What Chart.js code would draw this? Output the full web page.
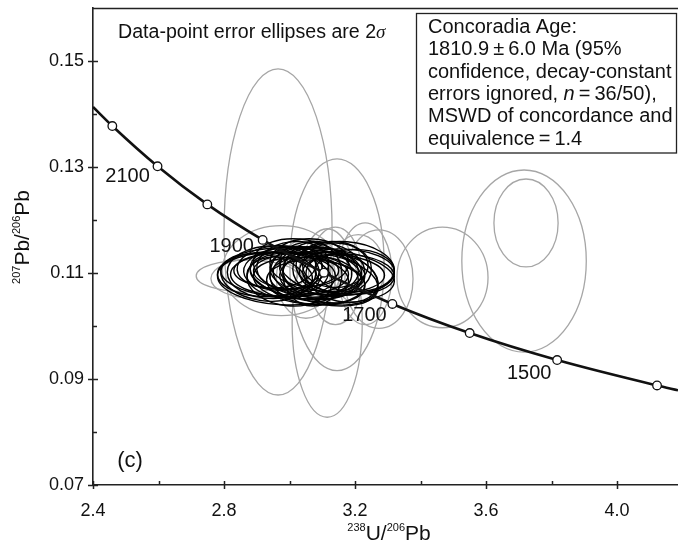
<!DOCTYPE html>
<html><head><meta charset="utf-8">
<script src="https://cdn.jsdelivr.net/npm/chart.js@4.4.0/dist/chart.umd.min.js"></script>
<style>html,body{margin:0;padding:0;background:#fff;overflow:hidden}#wrap{width:678px;height:545px;position:relative;}canvas{display:block}</style>
</head><body><div id="wrap"><canvas id="c" width="678" height="545"></canvas></div>
<script>
// ---- Concordia curve (age markers, Ma) ----
const concordiaAges = [2200, 2100, 2000, 1900, 1800, 1700, 1600, 1500, 1400];
const concordiaX = [2.459, 2.597, 2.749, 2.918, 3.105, 3.314, 3.550, 3.817, 4.122];
const concordiaY = [0.1378, 0.1302, 0.1230, 0.1163, 0.1101, 0.1042, 0.0987, 0.0936, 0.0888];
const curveEdgeX = [2.400, 4.186];
const curveEdgeY = [0.1414, 0.0879];
const labelledAges = [2100, 1900, 1700, 1500];

// ---- Included analyses (black 2σ ellipses): centre, 2σ half-widths, error correlation ----
const blackX   = [3.05,3.08,3.00,3.12,2.98,3.10,2.98,3.15,3.06,2.95,3.01,3.09,3.13,2.97,3.04,3.18,3.07,2.99,3.11,3.02,3.14,2.93,3.06,3.16,3.00,3.09,3.20,2.96,3.04,3.12,3.08,2.92,3.17,3.01,3.10,3.05];
const blackY   = [0.1100,0.1105,0.1098,0.1095,0.1108,0.1112,0.1090,0.1102,0.1085,0.1102,0.1115,0.1092,0.1108,0.1093,0.1110,0.1098,0.1098,0.1105,0.1088,0.1103,0.1115,0.1098,0.1120,0.1090,0.1088,0.1100,0.1105,0.1112,0.1095,0.1103,0.1083,0.1092,0.1110,0.1100,0.1096,0.1106];
const blackSX  = [0.17,0.14,0.18,0.15,0.12,0.13,0.20,0.17,0.17,0.14,0.11,0.12,0.12,0.10,0.15,0.14,0.09,0.16,0.16,0.08,0.10,0.15,0.12,0.11,0.13,0.20,0.12,0.12,0.10,0.09,0.15,0.13,0.15,0.22,0.22,0.07];
const blackSY  = [0.0050,0.0045,0.0042,0.0055,0.0040,0.0048,0.0050,0.0044,0.0045,0.0050,0.0045,0.0040,0.0052,0.0038,0.0055,0.0038,0.0060,0.0035,0.0050,0.0048,0.0042,0.0042,0.0045,0.0045,0.0050,0.0040,0.0040,0.0040,0.0035,0.0038,0.0042,0.0045,0.0050,0.0048,0.0052,0.0040];
const blackRho = [-0.2,-0.1,0.0,-0.3,0.1,-0.2,-0.1,0.0,-0.2,0.0,0.1,-0.1,0.0,-0.1,-0.2,-0.1,0.0,0.0,-0.3,0.1,0.0,0.0,0.0,-0.2,-0.1,-0.1,0.0,0.1,0.0,0.0,-0.1,-0.2,-0.1,-0.1,-0.2,0.0];

// ---- Excluded analyses (grey 2σ ellipses) ----
const greyX   = [2.965,3.145,3.115,2.975,3.050,3.231,3.273,3.467,3.716,3.722,2.870,2.900,3.140,3.210];
const greyY   = [0.1178,0.1116,0.1006,0.1105,0.1090,0.1099,0.1089,0.1092,0.1123,0.1195,0.1095,0.1090,0.1095,0.1108];
const greySX  = [0.165,0.144,0.107,0.180,0.090,0.082,0.104,0.139,0.190,0.098,0.155,0.140,0.082,0.080];
const greySY  = [0.0308,0.0200,0.0178,0.0085,0.0075,0.0096,0.0093,0.0095,0.0172,0.0083,0.0030,0.0038,0.0092,0.0065];
const greyRho = [0,0,0,0,0,0,0,0,0,0,0,0,0,0];

// ---- Axes ----
const xMajorTicks = [2.4, 2.8, 3.2, 3.6, 4.0];
const xMinorTicks = [2.6, 3.0, 3.4, 3.8];
const yMajorTicks = [0.07, 0.09, 0.11, 0.13, 0.15];
const yMinorTicks = [0.08, 0.10, 0.12, 0.14];
const xRange = [2.4, 4.186];
const yRange = [0.07, 0.1601];

const FONT = "'Liberation Sans', Arial, sans-serif";

const curvePts = [{x: curveEdgeX[0], y: curveEdgeY[0]}]
  .concat(concordiaX.map((v, i) => ({x: v, y: concordiaY[i]})))
  .concat([{x: curveEdgeX[1], y: curveEdgeY[1]}]);

function drawEllipse(ctx, xs, ys, cx, cy, sx, sy, rho) {
  const px = xs.getPixelForValue(cx), py = ys.getPixelForValue(cy);
  const a = Math.abs(xs.getPixelForValue(cx + sx) - px);
  const b = Math.abs(ys.getPixelForValue(cy + sy) - py);
  const c = -rho * a * b;
  const m = (a * a + b * b) / 2, d = Math.sqrt(((a * a - b * b) / 2) ** 2 + c * c);
  const l1 = m + d, l2 = Math.max(m - d, 0.01);
  const th = 0.5 * Math.atan2(2 * c, a * a - b * b);
  ctx.beginPath();
  ctx.ellipse(px, py, Math.sqrt(l1), Math.sqrt(l2), th, 0, Math.PI * 2);
  ctx.stroke();
}

const ellipsePlugin = {
  id: 'ellipses',
  beforeDatasetsDraw(chart) {
    const {ctx, chartArea: ca} = chart;
    const xs = chart.scales.x, ys = chart.scales.y;
    ctx.save();
    ctx.beginPath(); ctx.rect(ca.left, ca.top, ca.right - ca.left, ca.bottom - ca.top); ctx.clip();
    ctx.strokeStyle = '#a6a6a6'; ctx.lineWidth = 1.3;
    greyX.forEach((v, i) => drawEllipse(ctx, xs, ys, v, greyY[i], greySX[i], greySY[i], greyRho[i]));
    ctx.strokeStyle = '#000'; ctx.lineWidth = 1.4;
    blackX.forEach((v, i) => drawEllipse(ctx, xs, ys, v, blackY[i], blackSX[i], blackSY[i], blackRho[i]));
    ctx.restore();
  }
};

function richWidth(ctx, parts) {
  let w = 0;
  parts.forEach(p => { ctx.font = p.font; w += ctx.measureText(p.t).width; });
  return w;
}
function drawRich(ctx, parts, x, y) {
  let cx = x;
  parts.forEach(p => {
    ctx.font = p.font;
    ctx.fillText(p.t, cx, y + (p.dy || 0));
    cx += ctx.measureText(p.t).width;
  });
}

const labelOffsets = {2100: [-30, 10], 1900: [-31, 7], 1700: [-28, 12], 1500: [-28, 13]};

const annotPlugin = {
  id: 'annot',
  afterDraw(chart) {
    const {ctx, chartArea: ca} = chart;
    const xs = chart.scales.x, ys = chart.scales.y;
    ctx.save();
    ctx.strokeStyle = '#222'; ctx.lineWidth = 1.5;
    // top frame
    ctx.beginPath(); ctx.moveTo(ca.left, ca.top + 0.5); ctx.lineTo(ca.right, ca.top + 0.5); ctx.stroke();
    // ticks
    ctx.beginPath();
    xMajorTicks.forEach(v => { const p = Math.round(xs.getPixelForValue(v)) + 0.5; ctx.moveTo(p, ca.bottom - 4); ctx.lineTo(p, ca.bottom + 4); });
    xMinorTicks.forEach(v => { const p = Math.round(xs.getPixelForValue(v)) + 0.5; ctx.moveTo(p, ca.bottom - 4); ctx.lineTo(p, ca.bottom); });
    yMajorTicks.forEach(v => { const p = Math.round(ys.getPixelForValue(v)) + 0.5; ctx.moveTo(ca.left - 5, p); ctx.lineTo(ca.left + 5, p); });
    yMinorTicks.forEach(v => { const p = Math.round(ys.getPixelForValue(v)) + 0.5; ctx.moveTo(ca.left, p); ctx.lineTo(ca.left + 4, p); });
    ctx.stroke();

    ctx.fillStyle = '#111';
    ctx.textBaseline = 'middle';
    // age labels on concordia
    ctx.font = '20px ' + FONT; ctx.textAlign = 'center';
    labelledAges.forEach(a => {
      const i = concordiaAges.indexOf(a);
      const o = labelOffsets[a];
      ctx.fillText(String(a), xs.getPixelForValue(concordiaX[i]) + o[0], ys.getPixelForValue(concordiaY[i]) + o[1]);
    });
    // (c)
    ctx.font = '22px ' + FONT;
    ctx.fillText('(c)', 130, 461);

    ctx.textAlign = 'left';
    // note
    drawRich(ctx, [
      {t: 'Data-point error ellipses are 2', font: '19.6px ' + FONT},
      {t: 'σ', font: 'italic 19px "Liberation Serif", serif'}
    ], 118, 33);

    // result box
    ctx.fillStyle = '#fff';
    ctx.fillRect(416, 13, 261, 140);
    ctx.strokeStyle = '#222'; ctx.lineWidth = 1.3;
    ctx.strokeRect(416.5, 13.5, 260, 139.5);
    ctx.fillStyle = '#111';
    ctx.textBaseline = 'alphabetic';
    const f = '20px ' + FONT, fi = 'italic 20px ' + FONT;
    const lines = [
      [{t: 'Concoradia Age:', font: f}],
      [{t: '1810.9\u2009\u00b1\u20096.0 Ma (95%', font: f}],
      [{t: 'confidence, decay-constant', font: f}],
      [{t: 'errors ignored, ', font: f}, {t: 'n', font: fi}, {t: '\u2009=\u200936/50),', font: f}],
      [{t: 'MSWD of concordance and', font: f}],
      [{t: 'equivalence\u2009=\u20091.4', font: f}]
    ];
    lines.forEach((ln, i) => drawRich(ctx, ln, 428, 33 + i * 22.3));

    // axis titles
    ctx.textBaseline = 'alphabetic';
    const xt = [
      {t: '238', font: '11px ' + FONT, dy: -9},
      {t: 'U/', font: '21px ' + FONT},
      {t: '206', font: '11px ' + FONT, dy: -9},
      {t: 'Pb', font: '21px ' + FONT}
    ];
    const xw = richWidth(ctx, xt);
    drawRich(ctx, xt, 389 - xw / 2, 540);

    ctx.save();
    ctx.translate(29, 237);
    ctx.rotate(-Math.PI / 2);
    const yt = [
      {t: '207', font: '11px ' + FONT, dy: -9},
      {t: 'Pb/', font: '21px ' + FONT},
      {t: '206', font: '11px ' + FONT, dy: -9},
      {t: 'Pb', font: '21px ' + FONT}
    ];
    const yw = richWidth(ctx, yt);
    drawRich(ctx, yt, -yw / 2, 0);
    ctx.restore();
    ctx.restore();
  }
};

Chart.defaults.font.family = FONT;
Chart.defaults.color = '#111';

function noPad(s) { s.paddingTop = 0; s.paddingBottom = 0; s.paddingLeft = 0; s.paddingRight = 0; }

new Chart(document.getElementById('c'), {
  type: 'scatter',
  data: {
    datasets: [
      {
        label: 'Concordia age markers',
        data: concordiaX.map((v, i) => ({x: v, y: concordiaY[i]})),
        pointRadius: 4.3, pointBackgroundColor: '#fff', pointBorderColor: '#111', pointBorderWidth: 1.3,
        showLine: false
      },
      {
        label: 'Concordia',
        type: 'line',
        data: curvePts,
        borderColor: '#111', borderWidth: 2.6, pointRadius: 0,
        cubicInterpolationMode: 'monotone', fill: false
      },
      {
        label: 'Included', data: blackX.map((v, i) => ({x: v, y: blackY[i]})), pointRadius: 0
      },
      {
        label: 'Excluded', data: greyX.map((v, i) => ({x: v, y: greyY[i]})), pointRadius: 0
      }
    ]
  },
  options: {
    responsive: false,
    animation: false,
    devicePixelRatio: 1,
    layout: {autoPadding: false, padding: {top: 8, right: 0, left: 0, bottom: 0}},
    plugins: {legend: {display: false}, tooltip: {enabled: false}},
    scales: {
      x: {
        type: 'linear', min: xRange[0], max: xRange[1],
        afterBuildTicks: s => { s.ticks = xMajorTicks.map(v => ({value: v})); },
        afterFit: s => { s.height = 60; noPad(s); },
        grid: {display: false, drawTicks: false},
        border: {display: true, color: '#222', width: 1.6},
        ticks: {font: {size: 18}, padding: 15, maxRotation: 0, autoSkip: false, callback: v => Number(v).toFixed(1)}
      },
      y: {
        type: 'linear', min: yRange[0], max: yRange[1],
        afterBuildTicks: s => { s.ticks = yMajorTicks.map(v => ({value: v})); },
        afterFit: s => { s.width = 93; noPad(s); },
        grid: {display: false, drawTicks: false},
        border: {display: true, color: '#222', width: 1.6},
        ticks: {font: {size: 18}, padding: 9, autoSkip: false, callback: v => Number(v).toFixed(2)}
      }
    }
  },
  plugins: [ellipsePlugin, annotPlugin]
});
</script>
</body></html>
